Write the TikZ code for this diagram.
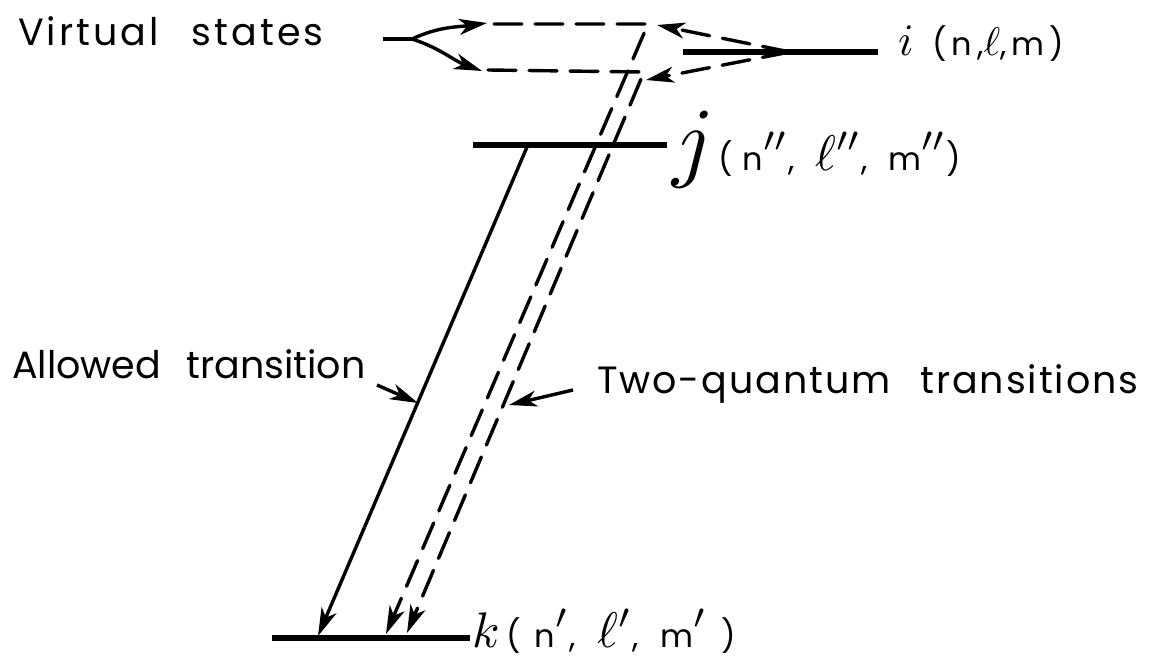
\documentclass[tikz,border=0pt]{standalone}
\usepackage{graphicx}
\usepackage{fontspec}
\newfontfamily\lettering{Poppins}[WordSpace=2.5]
\newfontfamily\qnfont{Poppins}
\newcommand{\mscale}[2]{\scalebox{#1}{\fontsize{10}{12}\selectfont$#2$}}
\usetikzlibrary{positioning, arrows.meta}

\begin{document}
\begin{tikzpicture}[x=1pt, y=-1pt,
  level/.style={line width=5.5pt},
  trans/.style={line width=3.4pt, -{Stealth[length=28pt, width=16pt, inset=8pt]}},
  virt/.style={line width=3.6pt, line cap=round, dash pattern=on 28pt off 13pt},
  ptr/.style={line width=3.4pt, -{Stealth[length=28pt, width=16pt, inset=8pt]}},
  lbl/.style={font=\lettering\fontsize{38}{40}\selectfont\addfontfeature{LetterSpace=#1},
              inner sep=0pt, anchor=base west},
  lbl/.default=8,
  qn/.style={font=\qnfont\fontsize{32}{34}\selectfont\addfontfeature{LetterSpace=#1},
             inner sep=0pt, anchor=base west},
  qn/.default=30,
  sym/.style={inner sep=0pt, anchor=base west},
]
  \useasboundingbox (0,0) rectangle (1149,656);

  % energy levels
  \coordinate (iw) at (683,52);  \coordinate (ie) at (878,52);
  \coordinate (jw) at (473,145); \coordinate (je) at (667,145);
  \coordinate (kw) at (272,638); \coordinate (ke) at (470,638);
  \draw[level] (iw) -- (ie);
  \draw[level] (jw) -- (je);
  \draw[level] (kw) -- (ke);
  \coordinate (ifoot) at (790,52);

  \node[sym] (isym) at (898,55) {\mscale{4.5}{i}};
  \node[qn=16] (iqn) at ([xshift=18pt]isym.base east) {(n,\mscale{4}{\ell},m)};
  \node[sym] (jsym) at (672,170) {\mscale{9}{j}};
  \node[qn] (jqn) at ([xshift=4pt]jsym.base east)
    {(n\mscale{5}{''},\hspace{20pt}\mscale{5}{\ell''},\hspace{20pt}m\mscale{5}{''})};
  \node[sym] (ksym) at (472,647) {\mscale{5}{k}};
  \node[qn] (kqn) at ([xshift=6pt]ksym.base east)
    {(\hspace{14pt}n\mscale{5}{'},\hspace{22pt}\mscale{5}{\ell'},\hspace{22pt}m\mscale{5}{'}\hspace{14pt})};

  % virtual states and two-quantum paths
  \coordinate (v1w) at (494,24); \coordinate (v1e) at (648,24);
  \coordinate (v2w) at (488,70); \coordinate (v2e) at (644,72);
  \coordinate (k1) at (386,634); \coordinate (k2) at (407,633);
  \draw[virt, trans] (v1w) -- (v1e) -- (k1);
  \draw[virt, trans] (v2w) -- (v2e) -- (k2);
  \draw[virt, trans] (ifoot) -- (657,25);
  \draw[virt, trans] (ifoot) -- (646,80);

  % allowed transition
  \coordinate (jfoot) at (527,147);
  \coordinate (kfoot) at (318,636);
  \draw[trans] (jfoot) -- (kfoot);

  % labels and pointers
  \node[lbl] (vslab) at (18,45) {Virtual states};
  \coordinate (vstail) at (383,39);
  \coordinate (vsfork) at (412,39);
  \draw[line width=3.4pt] (vstail) -- (vsfork);
  \draw[ptr] (vsfork) to[out=25, in=188] (487,23);
  \draw[ptr] (vsfork) to[out=-18, in=160] (482,71);

  \node[lbl=0] (allowlab) at (12,378) {Allowed transition};
  \coordinate (allowtail) at (377,385);
  \draw[ptr] (allowtail) -- (418,403);

  \node[lbl=5] (twoqlab) at (597,393) {Two-quantum transitions};
  \coordinate (twoqtail) at (573,390);
  \draw[ptr] (twoqtail) -- (509,405);
\end{tikzpicture}
\end{document}
